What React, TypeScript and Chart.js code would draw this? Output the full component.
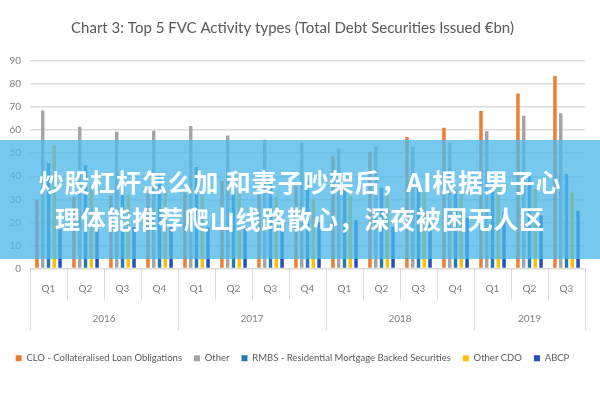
import React, { useEffect, useRef } from "react";
import { Chart, registerables } from "chart.js";

Chart.register(...registerables);

const TITLE = "Chart 3: Top 5 FVC Activity types (Total Debt Securities Issued €bn)";
const quarters = ["Q1", "Q2", "Q3", "Q4", "Q1", "Q2", "Q3", "Q4", "Q1", "Q2", "Q3", "Q4", "Q1", "Q2", "Q3"];
const years = ["2016", "2017", "2018", "2019"];
const quartersPerYear = [4, 4, 4, 3];

const clo = [29.6, 31, 31.7, 32.5, 33, 38, 33, 36, 48.7, 50.6, 57, 61, 68.3, 75.9, 83.5];
const other = [68.5, 61.5, 59.3, 59.7, 61.8, 57.7, 55.8, 54.5, 52, 52.8, 52.8, 54.6, 59.5, 66.3, 67.3];
const rmbs = [45.6, 44.8, 40, 41, 44, 39, 37.5, 38, 35, 35, 36, 34, 38, 40, 41];
const otherCdo = [53.5, 36, 32, 34, 32, 33, 31, 30, 31.7, 32.5, 33, 33, 35, 34.5, 33];
const abcp = [17, 17, 18, 18, 18, 18, 20, 20, 21, 18, 21, 22, 24.5, 23, 25];

const seriesLabels = [
  "CLO - Collateralised Loan Obligations",
  "Other",
  "RMBS - Residential Mortgage Backed Securities",
  "Other CDO",
  "ABCP",
];
const seriesColors = ["#ED7D31", "#A5A5A5", "#2279B5", "#FFC000", "#1F4FC0"];

const overlayLine1 = "炒股杠杆怎么加 和妻子吵架后，AI根据男子心";
const overlayLine2 = "理体能推荐爬山线路散心，深夜被困无人区";

const yearAxisPlugin = {
  id: "yearAxis",
  afterDraw(chart: any) {
    const xs = chart.scales.x;
    const ctx = chart.ctx;
    const bottom = chart.chartArea.bottom;
    const n = quarters.length;
    const step = xs.getPixelForValue(1) - xs.getPixelForValue(0);
    const boundary = (i: number) => xs.getPixelForValue(0) - step / 2 + step * i;
    const yearStarts: number[] = [];
    let acc = 0;
    quartersPerYear.forEach((q) => {
      yearStarts.push(acc);
      acc += q;
    });
    yearStarts.push(acc);
    ctx.save();
    ctx.strokeStyle = "#d9d9d9";
    ctx.lineWidth = 1;
    for (let i = 0; i <= n; i++) {
      const isYear = yearStarts.includes(i);
      const px = Math.round(boundary(i)) + 0.5;
      ctx.beginPath();
      ctx.moveTo(px, bottom);
      ctx.lineTo(px, bottom + (isYear ? 62 : 31));
      ctx.stroke();
    }
    ctx.fillStyle = "#7f7f7f";
    ctx.font = "10px Lato";
    ctx.textAlign = "center";
    ctx.textBaseline = "middle";
    years.forEach((y, k) => {
      const cx = (boundary(yearStarts[k]) + boundary(yearStarts[k + 1])) / 2;
      ctx.fillText(y, cx, bottom + 50);
    });
    ctx.restore();
  },
};

export default function App() {
  const ref = useRef<HTMLCanvasElement | null>(null);

  useEffect(() => {
    if (!ref.current) return;
    const data = [clo, other, rmbs, otherCdo, abcp];
    const chart = new Chart(ref.current, {
      type: "bar",
      data: {
        labels: quarters,
        datasets: data.map((d, i) => ({
          label: seriesLabels[i],
          data: d,
          backgroundColor: seriesColors[i],
          borderWidth: 0,
          barPercentage: 0.6,
          categoryPercentage: 0.78,
        })),
      },
      options: {
        animation: false,
        responsive: true,
        maintainAspectRatio: false,
        layout: { padding: { left: 0, right: 15, top: 0, bottom: 27 } },
        plugins: {
          title: {
            display: true,
            text: TITLE,
            color: "#595959",
            font: { family: "Lato", size: 15, weight: "normal" },
            padding: { top: 19, bottom: 24 },
          },
          legend: {
            position: "bottom",
            labels: {
              boxWidth: 6,
              boxHeight: 6,
              padding: 12,
              color: "#595959",
              font: { family: "Lato", size: 9.5 },
            },
          },
          tooltip: { enabled: false },
        },
        scales: {
          x: {
            grid: { display: false, drawTicks: false },
            border: { display: false },
            ticks: {
              color: "#7f7f7f",
              font: { family: "Lato", size: 10 },
              padding: 14,
              maxRotation: 0,
              autoSkip: false,
            },
            afterFit(scale: any) {
              scale.height = 73;
            },
          },
          y: {
            min: 0,
            max: 90,
            ticks: {
              stepSize: 10,
              color: "#7f7f7f",
              font: { family: "Lato", size: 10 },
              padding: 9,
            },
            grid: { color: "#dcdcdc", lineWidth: 1.5, drawTicks: false },
            border: { display: false },
            afterFit(scale: any) {
              scale.width = 30;
            },
          },
        },
      },
      plugins: [yearAxisPlugin],
    });
    return () => chart.destroy();
  }, []);

  return (
    <div style={{ position: "fixed", left: 0, top: 0, width: 600, height: 400, background: "#fff" }}>
      <canvas ref={ref} />
      <div
        style={{
          position: "absolute",
          left: 0,
          top: 140,
          width: 600,
          height: 119,
          background: "rgba(80,185,235,0.78)",
          color: "#fff",
          fontFamily: "'Noto Sans CJK SC', sans-serif",
          fontWeight: 700,
          fontSize: 25,
          lineHeight: "37px",
          letterSpacing: "0.8px",
          textAlign: "center",
          paddingTop: 23,
          boxSizing: "border-box",
          whiteSpace: "nowrap",
        }}
      >
        <div>{overlayLine1}</div>
        <div>{overlayLine2}</div>
      </div>
    </div>
  );
}
